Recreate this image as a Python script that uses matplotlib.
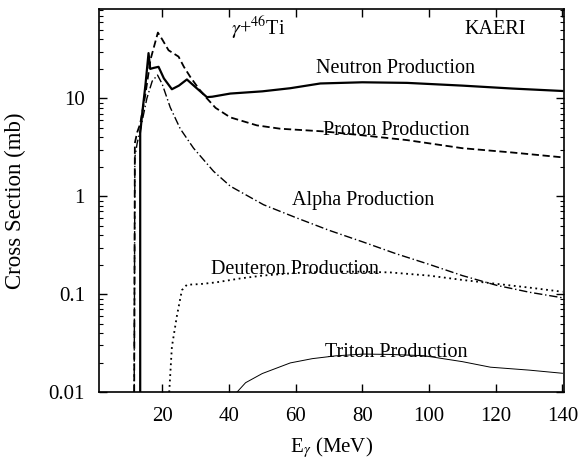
import numpy as np
import matplotlib
matplotlib.use("Agg")
import matplotlib.pyplot as plt
from matplotlib.ticker import FixedLocator, LogLocator, NullFormatter, FixedFormatter

plt.rcParams["font.family"] = ["Liberation Serif", "DejaVu Serif"]
plt.rcParams["mathtext.fontset"] = "stix"

# --- data (E in MeV, sigma in mb) ---
n_E = [13.4, 13.4, 14.0, 15.0, 15.9, 16.4, 17.5, 18.9, 20.5, 22.9, 25.0, 27.4, 30.0, 33.4, 35.0,
       40.4, 50.0, 58.4, 67.4, 80.0, 93.4, 110.0, 125.0, 140.0]
n_sig = [0.01, 4.4, 7.0, 14.0, 29.0, 20.0, 20.5, 21.0, 16.0, 12.4, 13.5, 15.6, 13.0, 10.3, 10.4,
         11.2, 11.8, 12.7, 14.2, 14.6, 14.4, 13.5, 12.6, 11.9]

p_E = [11.6, 11.8, 12.5, 13.4, 14.9, 16.5, 18.7, 20.0, 21.9, 24.9, 26.5, 28.4, 31.0, 33.4, 36.0,
       40.4, 48.4, 55.4, 68.4, 80.0, 93.4, 110.0, 125.0, 140.0]
p_sig = [0.01, 3.5, 4.5, 5.5, 10.7, 25.0, 47.0, 40.0, 31.0, 26.7, 21.0, 16.6, 12.5, 10.0, 8.0,
         6.4, 5.3, 4.9, 4.6, 4.2, 3.75, 3.1, 2.8, 2.5]

a_E = [11.6, 11.8, 12.5, 13.4, 15.4, 17.0, 18.6, 20.0, 22.4, 25.4, 29.4, 35.4, 40.4, 50.4, 60.4,
       70.0, 80.4, 90.0, 100.4, 110.0, 120.4, 130.0, 140.0]
a_sig = [0.01, 2.5, 3.5, 4.7, 10.0, 15.0, 17.3, 14.0, 8.1, 4.9, 3.1, 1.8, 1.27, 0.82, 0.6,
         0.45, 0.34, 0.26, 0.2, 0.155, 0.123, 0.105, 0.092]

d_E = [22.1, 22.9, 24.4, 25.9, 27.4, 31.4, 36.0, 43.4, 50.0, 60.0, 70.4, 80.0, 88.4, 100.0,
       110.0, 120.0, 130.0, 140.0]
d_sig = [0.01, 0.029, 0.06, 0.11, 0.125, 0.127, 0.132, 0.145, 0.155, 0.165, 0.17, 0.17, 0.167,
         0.155, 0.14, 0.128, 0.117, 0.106]

t_E = [42.4, 45.0, 50.0, 58.4, 65.0, 72.0, 80.4, 88.0, 98.4, 110.0, 118.4, 130.0, 140.0]
t_sig = [0.01, 0.0125, 0.0155, 0.0199, 0.022, 0.0235, 0.0245, 0.0243, 0.0236, 0.0205, 0.018,
         0.0168, 0.0156]

x_ticks = [20, 40, 60, 80, 100, 120, 140]
y_ticks = [0.01, 0.1, 1, 10]
y_ticklabels = ["0.01", "0.1", "1", "10"]

fig = plt.figure(figsize=(5.78, 4.68), dpi=100)
ax = fig.add_axes([0.171, 0.162, 0.805, 0.819])

ax.plot(n_E, n_sig, color="k", lw=1.6, ls="-")
ax.plot(p_E, p_sig, color="k", lw=1.3, ls=(0, (4, 2)))
ax.plot(a_E, a_sig, color="k", lw=1.0, ls=(0, (6, 2, 1, 2)))
ax.plot(d_E, d_sig, color="k", lw=1.3, ls=(0, (1, 2)))
ax.plot(t_E, t_sig, color="k", lw=0.7, ls="-")

ax.set_yscale("log")
ax.set_xlim(1, 140.5)
ax.set_ylim(0.01, 82)
ax.xaxis.set_major_locator(FixedLocator(x_ticks))
ax.yaxis.set_major_locator(FixedLocator(y_ticks))
ax.yaxis.set_major_formatter(FixedFormatter(y_ticklabels))
ax.yaxis.set_minor_locator(LogLocator(base=10, subs=np.arange(2, 10)))
ax.yaxis.set_minor_formatter(NullFormatter())
ax.tick_params(which="both", direction="in", top=True, right=True, labelsize=15)
ax.tick_params(which="major", length=6, width=1.0)
ax.tick_params(which="minor", length=3, width=0.8)
ax.tick_params(axis="x", pad=11)
ax.tick_params(axis="y", pad=10)
for s in ax.spines.values():
    s.set_linewidth(1.2)

ax.set_xlabel(r"E$_\gamma$ (MeV)", fontsize=15, labelpad=6)
ax.set_ylabel("Cross Section (mb)", fontsize=16.5, labelpad=16)

fs = 14.5
ax.text(48.8, 52, r"$\gamma$+$^{46}$Ti", fontsize=fs, ha="center", va="center")
ax.text(119.9, 50, "KAERI", fontsize=fs, ha="center", va="center")
ax.text(89.9, 20.4, "Neutron Production", fontsize=fs, ha="center", va="center")
ax.text(90.2, 4.68, "Proton Production", fontsize=fs, ha="center", va="center")
ax.text(80.3, 0.91, "Alpha Production", fontsize=fs, ha="center", va="center")
ax.text(59.9, 0.177, "Deuteron Production", fontsize=fs, ha="center", va="center")
ax.text(90.2, 0.0257, "Triton Production", fontsize=fs, ha="center", va="center")

fig.savefig("out.png", dpi=100)
